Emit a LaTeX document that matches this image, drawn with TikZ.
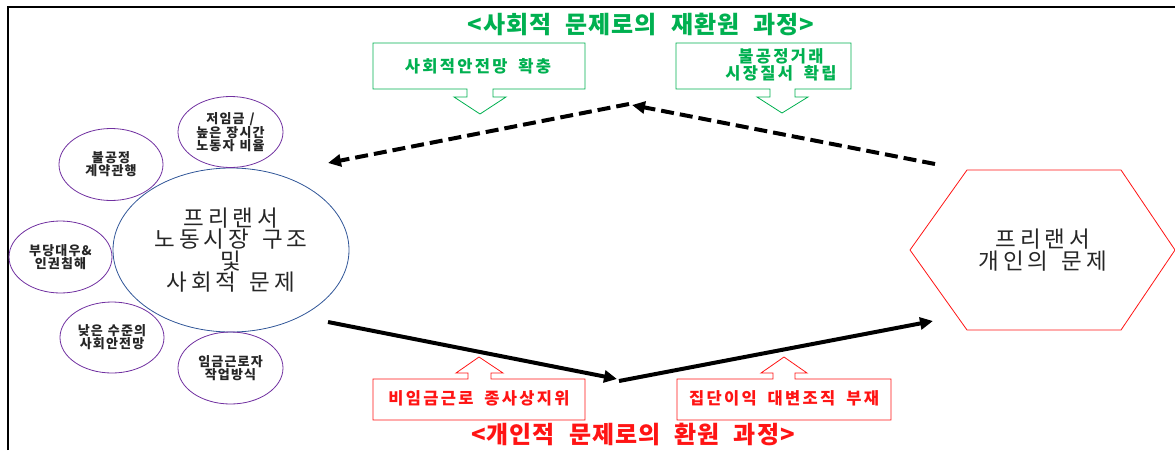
\documentclass[tikz,border=0pt]{standalone}
\usepackage{fontspec}
\usetikzlibrary{arrows.meta}
\newfontfamily\krT[LetterSpace=4,WordSpace=2.2]{Noto Sans CJK KR}
\newfontfamily\krB[LetterSpace=14,WordSpace=1.8]{Noto Sans CJK KR}
\newfontfamily\krC[LetterSpace=17,WordSpace=1.5]{Noto Sans CJK KR}
\newfontfamily\krS[LetterSpace=9,WordSpace=1.2]{Noto Sans CJK KR}
\definecolor{gr}{RGB}{0,176,80}
\definecolor{rd}{RGB}{255,20,20}
\definecolor{pu}{RGB}{112,48,160}
\definecolor{bl}{RGB}{47,85,151}
\definecolor{tx}{RGB}{38,38,38}
\tikzset{
  titletext/.style={inner sep=0pt,font=\krT\bfseries\fontsize{24}{26}\selectfont},
  boxtext/.style={inner sep=0pt,align=center,font=\krB\bfseries\fontsize{16.5}{17}\selectfont},
  bigtext/.style={inner sep=0pt,align=center,text=tx,font=\krC\fontsize{22.5}{20}\selectfont},
  smalltext/.style={inner sep=0pt,align=center,text=tx,font=\krS\bfseries\fontsize{13}{11.5}\selectfont},
  smallell/.style={draw=pu,line width=0.8pt},
  callout/.style={line width=0.8pt},
  dasharrow/.style={line width=4pt,dash pattern=on 13pt off 6pt,-{Triangle[length=13pt,width=12pt]}},
  solidarrow/.style={line width=4pt,-{Triangle[length=13pt,width=12pt]}}
}
\begin{document}
\begin{tikzpicture}[x=1pt,y=-1pt]
\useasboundingbox (0,0) rectangle (1175,450);
% frame
\draw[line width=2pt] (7.5,450) -- (7.5,6.5) -- (1175,6.5);

% titles
\node[titletext,text=gr] (t1) at (641,24) {<사회적 문제로의 재환원 과정>};
\node[titletext,text=rd] (t2) at (633,434) {<개인적 문제로의 환원 과정>};

% green callouts (pointing down)
\draw[callout,draw=gr] (373,43) -- (585,43) -- (585,89) -- (493,89) -- (493,97) -- (506,97) -- (480,114) -- (454,97) -- (467,97) -- (467,89) -- (373,89) -- cycle;
\node[boxtext,text=gr] (g1) at (478,66) {사회적안전망 확충};
\draw[callout,draw=gr] (676,43) -- (851,43) -- (851,89) -- (795,89) -- (795,97) -- (808,97) -- (782,113) -- (757,97) -- (770,97) -- (770,89) -- (676,89) -- cycle;
\node[boxtext,text=gr] (g2) at (781,65) {불공정거래\\시장질서 확립};

% red callouts (pointing up)
\draw[callout,draw=rd] (373,420) -- (585,420) -- (585,379) -- (491,379) -- (491,373) -- (503,373) -- (479,357) -- (456,373) -- (468,373) -- (468,379) -- (373,379) -- cycle;
\node[boxtext,text=rd] (r1) at (479,398) {비임금근로 종사상지위};
\draw[callout,draw=rd] (677,420) -- (891,420) -- (891,379) -- (795,379) -- (795,373) -- (807,373) -- (784,357) -- (761,373) -- (773,373) -- (773,379) -- (677,379) -- cycle;
\node[boxtext,text=rd] (r2) at (784,398) {집단이익 대변조직 부재};

% main ellipse
\node[bigtext] (main) at (231,250) {프리랜서\\노동시장 구조\\및\\사회적 문제};
\draw[draw=bl,line width=0.8pt] (main.center) ellipse [x radius=118, y radius=82];

% small ellipses
\node[smalltext] (e1) at (230.5,132) {저임금 /\\높은 장시간\\노동자 비율};
\draw[smallell] (e1.center) ellipse [x radius=52.5, y radius=35.5];
\node[smalltext] (e2) at (111,164.5) {불공정\\계약관행};
\draw[smallell] (e2.center) ellipse [x radius=52, y radius=36];
\node[smalltext] (e3) at (60.5,257) {부당대우\&\\인권침해};
\draw[smallell] (e3.center) ellipse [x radius=51.5, y radius=36];
\node[smalltext] (e4) at (112,337.5) {낮은 수준의\\사회안전망};
\draw[smallell] (e4.center) ellipse [x radius=52, y radius=35.5];
\node[smalltext] (e5) at (230.5,368) {임금근로자\\작업방식};
\draw[smallell] (e5.center) ellipse [x radius=52.5, y radius=36];

% hexagon
\node[bigtext] (hex) at (1043,250) {프리랜서\\개인의 문제};
\draw[draw=rd,line width=0.8pt] (910,250) -- (967,170) -- (1121,170) -- (1175,250) -- (1121,330) -- (967,330) -- cycle;

% connectors
\coordinate (hexU) at (935,164);
\coordinate (apex) at (632,105);
\coordinate (mainU) at (328,163);
\coordinate (mainD) at (328,322);
\coordinate (low) at (617,379);
\coordinate (low2) at (619,381);
\coordinate (hexD) at (933,321);
\draw[dasharrow] (hexU) -- (apex);
\draw[dasharrow] ([xshift=-3pt,yshift=1pt]apex) -- (mainU);
\draw[solidarrow] (mainD) -- (low);
\draw[solidarrow] (low2) -- (hexD);
\end{tikzpicture}
\end{document}
